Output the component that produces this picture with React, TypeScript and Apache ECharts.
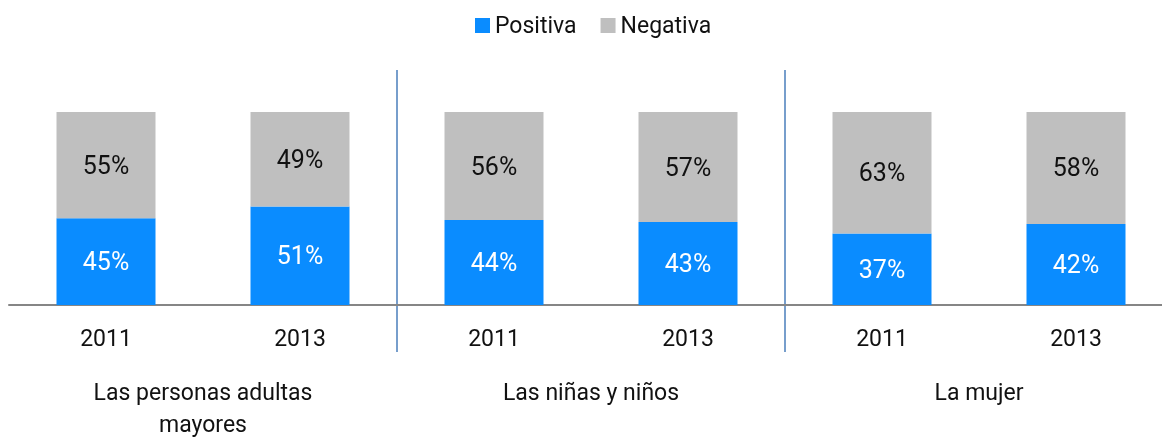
import React, { useEffect, useRef } from "react";
import * as echarts from "echarts";

const years = ["2011", "2013", "2011", "2013", "2011", "2013"];
const groups = ["Las personas adultas\nmayores", "Las niñas y niños", "La mujer"];
const positiva = [45, 51, 44, 43, 37, 42];
const negativa = [55, 49, 56, 57, 63, 58];
const seriesNames = ["Positiva", "Negativa"];
const groupBoundaries = [2, 4];

export default function App() {
  const ref = useRef<HTMLDivElement>(null);
  useEffect(() => {
    const chart = echarts.init(ref.current!, null, { renderer: "svg" });
    const font = "Roboto, 'Noto Sans', sans-serif";
    chart.setOption({
      animation: false,
      legend: {
        data: seriesNames,
        top: 14,
        left: 475,
        padding: 0,
        icon: "rect",
        itemWidth: 15,
        itemHeight: 15,
        itemGap: 24,
        textStyle: { fontFamily: font, fontSize: 23, color: "#111", lineHeight: 22 },
      },
      grid: { left: 9, right: -11, top: 112, bottom: 134, containLabel: false, outerBoundsMode: "none" },
      xAxis: [
        {
          type: "category",
          data: years,
          axisLine: { lineStyle: { color: "#868686", width: 2 } },
          axisTick: { show: false },
          axisLabel: { fontFamily: font, fontSize: 23, color: "#111", margin: 22, lineHeight: 23 },
        },
        {
          type: "category",
          data: groups,
          position: "bottom",
          axisLine: { show: false },
          axisTick: { show: false },
          axisLabel: { fontFamily: font, fontSize: 23, color: "#111", margin: 71, lineHeight: 32 },
        },
      ],
      yAxis: { type: "value", min: 0, max: 100, show: false },
      series: [
        {
          name: seriesNames[0],
          type: "bar",
          stack: "total",
          data: positiva,
          barWidth: 99,
          itemStyle: { color: "#0A8CFF" },
          label: { show: true, position: "inside", formatter: "{c}%", fontFamily: font, fontSize: 25, color: "#fff" },
        },
        {
          name: seriesNames[1],
          type: "bar",
          stack: "total",
          data: negativa,
          barWidth: 99,
          itemStyle: { color: "#BFBFBF" },
          label: { show: true, position: "inside", formatter: "{c}%", fontFamily: font, fontSize: 25, color: "#111" },
        },
      ],
    });
    const lines = groupBoundaries.map((i) => {
      const a = chart.convertToPixel({ xAxisIndex: 0 }, i - 1) as number;
      const b = chart.convertToPixel({ xAxisIndex: 0 }, i) as number;
      const x = (a + b) / 2;
      return {
        type: "line",
        shape: { x1: x, y1: 70, x2: x, y2: 352 },
        style: { stroke: "#4A7EBB", lineWidth: 1.5 },
      };
    });
    chart.setOption({ graphic: lines });
    return () => chart.dispose();
  }, []);
  return (
    <div
      ref={ref}
      style={{ position: "fixed", left: 0, top: 0, width: 1162, height: 439 }}
    />
  );
}
